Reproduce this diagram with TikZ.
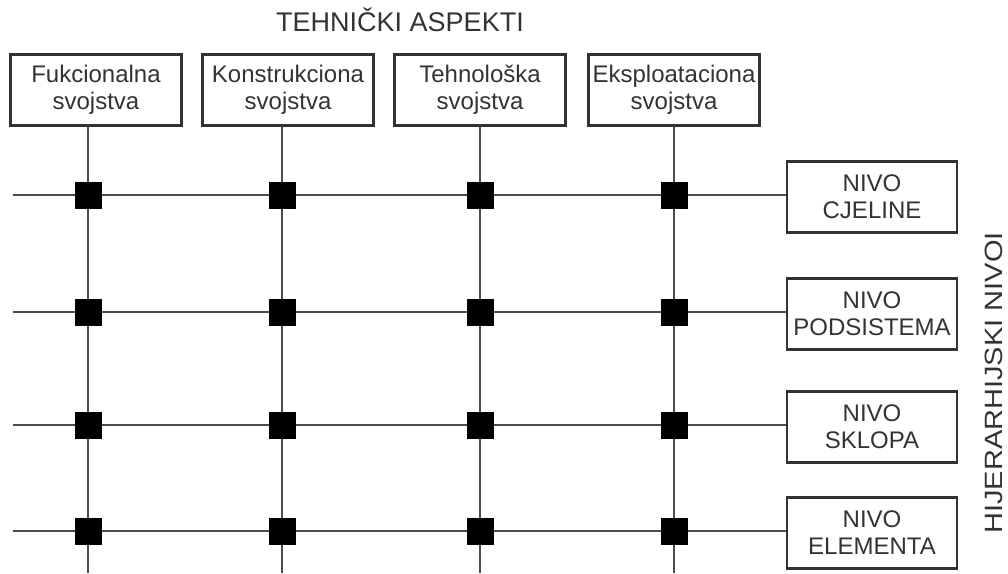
\documentclass[tikz,border=0pt]{standalone}
\usepackage{fontspec}
\setmainfont{Liberation Sans}
\usetikzlibrary{positioning}

\begin{document}
\begin{tikzpicture}[
		x=1pt, y=-1pt,
		box/.style	={ draw=black!80, line width=2.2pt, fill=white,
			minimum width=171pt, minimum height=71pt, inner sep=0pt,
			align=center, text=black!80,
			font=\fontsize{24}{27}\selectfont,
		},
		grid/.style	={ draw=black!70, line width=1.8pt },
		joint/.style	={ fill=black, minimum size=27pt, inner sep=0pt },
		label/.style	={ text=black!80, inner sep=0pt },
	]
	\useasboundingbox (0,0) rectangle (1008,573);

	% headings
	\node [label, font=\fontsize{27}{32}\selectfont, anchor=base] (aspects) at (400,31) {TEHNIČKI ASPEKTI};
	\node [label, font=\fontsize{25}{30}\selectfont, rotate=90, xscale=1.16] (levels) at (994,383) {HIJERARHIJSKI NIVOI};

	% draw property boxes (box x / line x / index / name)
	\def\proplist{ 96/88/1/Fukcionalna, 288/282/2/Konstrukciona, 480/480/3/Tehnološka, 674/674/4/Eksploataciona}
	\foreach \x/\c/\n/\t in \proplist {
		\node [box] (prop_\n) at (\x,90) {\t\\svojstva};
		\coordinate (col_\n) at (\c,573);
	}

	% draw level boxes (index / line y / name)
	\def\levellist{ 1/195/CJELINE, 2/312/PODSISTEMA, 3/425/SKLOPA, 4/531/ELEMENTA}
	\foreach \n/\y/\t in \levellist {
		\node [box, minimum width=170pt] (level_\n) at (872,\y+2) {NIVO\\\t};
		\coordinate (row_\n) at (13,\y);
	}

	% draw grid lines
	\foreach \n in {1,...,4} {
		\draw [grid] (col_\n |- prop_\n.south) -- (col_\n);
		\draw [grid] (row_\n) -- (row_\n -| level_\n.west);
	}

	% draw joints
	\foreach \r in {1,...,4}
		\foreach \c in {1,...,4}
			\node [joint] (joint_\r_\c) at (col_\c |- row_\r) {};

\end{tikzpicture}
\end{document}
